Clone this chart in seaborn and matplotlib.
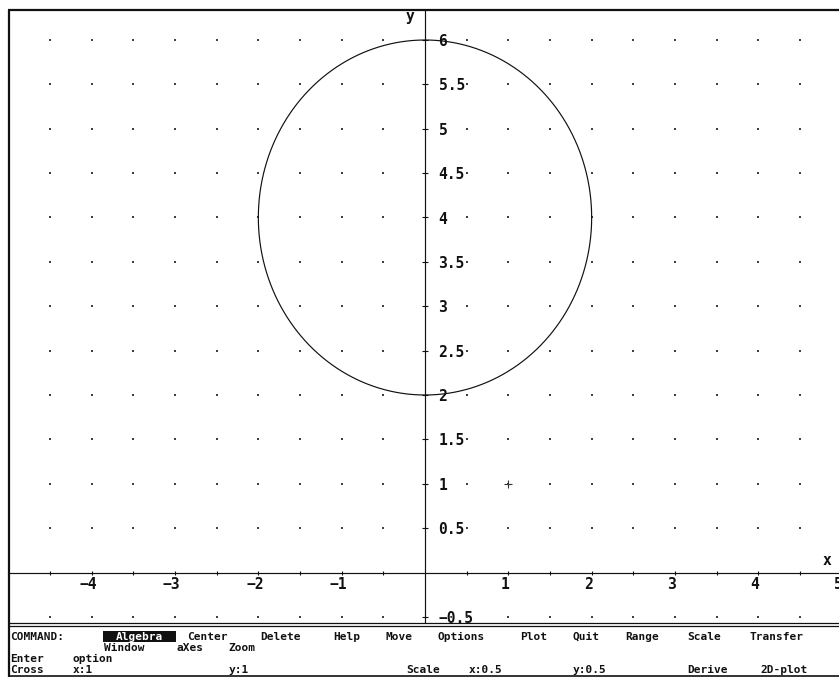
import re
import numpy as np
import pandas as pd
import matplotlib
matplotlib.use("Agg")
import matplotlib.pyplot as plt
from matplotlib.lines import Line2D
from matplotlib.patches import Rectangle
from matplotlib.transforms import Affine2D, ScaledTranslation
from matplotlib.ticker import FixedLocator, FixedFormatter
import seaborn as sns

# ---- plotted curve: x^2 + (y-4)^2 = 4 ------------------------------------
CENTER_X = 0.0
CENTER_Y = 4.0
RADIUS = 2.0

# cross-hair cursor position
CROSS_X = [1.0]
CROSS_Y = [1.0]

# axis ticks (scale 0.5 on both axes) and their labels
X_TICKS = [-4.5, -4, -3.5, -3, -2.5, -2, -1.5, -1, -0.5,
           0.5, 1, 1.5, 2, 2.5, 3, 3.5, 4, 4.5, 5]
X_TICK_LABELS = ["", "\u22124", "", "\u22123", "", "\u22122", "", "\u22121", "",
                 "", "1", "", "2", "", "3", "", "4", "", "5"]
Y_TICKS = [-0.5, 0.5, 1, 1.5, 2, 2.5, 3, 3.5, 4, 4.5, 5, 5.5, 6]
Y_TICK_LABELS = ["\u22120.5", "0.5", "1", "1.5", "2", "2.5", "3", "3.5",
                 "4", "4.5", "5", "5.5", "6"]

# status / menu lines under the plot window
MENU_LINES = [
    "COMMAND: Algebra Center Delete Help Move Options Plot Quit Range Scale Transfer",
    "         Window aXes Zoom",
    "Enter option",
    "Cross x:1            y:1              Scale x:0.5     y:0.5      Derive 2D-plot",
]
HIGHLIGHT_WORD = "Algebra"

# ---- layout ----------------------------------------------------------------
W, H = 839, 677
X_ORIGIN_PX, X_UNIT_PX = 425.0, 83.33
Y_ORIGIN_PX, Y_UNIT_PX = 572.5, 88.75
XLIM = (-5.0, 5.3)
YLIM = (-0.558, 6.338)

sns.set_theme(style="white")
plt.rcParams["font.family"] = ["DejaVu Sans Mono", "DejaVu Sans"]
plt.rcParams["font.weight"] = "bold"

fig = plt.figure(figsize=(W / 100, H / 100), dpi=100)
fig.patch.set_facecolor("white")

left_px = X_ORIGIN_PX + X_UNIT_PX * XLIM[0]
right_px = X_ORIGIN_PX + X_UNIT_PX * XLIM[1]
top_px = Y_ORIGIN_PX - Y_UNIT_PX * YLIM[1]
bottom_px = Y_ORIGIN_PX - Y_UNIT_PX * YLIM[0]
ax = fig.add_axes([left_px / W, 1 - bottom_px / H,
                   (right_px - left_px) / W, (bottom_px - top_px) / H])
ax.set_facecolor("white")
ax.set_xlim(*XLIM)
ax.set_ylim(*YLIM)

# dotted grid at every tick intersection
gx, gy = np.meshgrid(X_TICKS, Y_TICKS)
grid = pd.DataFrame({"x": gx.ravel(), "y": gy.ravel()})
sns.scatterplot(data=grid, x="x", y="y", marker="s", s=1.8, color="#404040",
                linewidth=0, ax=ax, zorder=1)

# the circle
theta = np.linspace(0, 2 * np.pi, 721)
circle = pd.DataFrame({"x": CENTER_X + RADIUS * np.cos(theta),
                       "y": CENTER_Y + RADIUS * np.sin(theta)})
sns.lineplot(data=circle, x="x", y="y", sort=False, estimator=None,
             color="#111111", linewidth=0.85, ax=ax, zorder=3)

# cross-hair cursor
sns.scatterplot(x=CROSS_X, y=CROSS_Y, marker="+", s=40, color="#333333",
                linewidth=0.8, ax=ax, zorder=4)

# axes through the origin
for side in ("top", "right"):
    ax.spines[side].set_visible(False)
ax.spines["left"].set_position(("data", 0))
ax.spines["bottom"].set_position(("data", 0))
for side in ("left", "bottom"):
    ax.spines[side].set_color("#111111")
    ax.spines[side].set_linewidth(0.85)
    ax.spines[side].set_zorder(2)

ax.xaxis.set_major_locator(FixedLocator(X_TICKS))
ax.xaxis.set_major_formatter(FixedFormatter(X_TICK_LABELS))
ax.yaxis.set_major_locator(FixedLocator(Y_TICKS))
ax.yaxis.set_major_formatter(FixedFormatter(Y_TICK_LABELS))
ax.tick_params(axis="x", direction="inout", length=3, width=0.8, pad=1.5,
               labelsize=10.5, colors="#111111", bottom=True)
ax.tick_params(axis="y", direction="inout", length=4.3, width=0.8, pad=-11.9,
               labelsize=10.5, colors="#111111", left=True)
ax.set_xlabel("")
ax.set_ylabel("")
shift_left = ScaledTranslation(-3.5 / 100, 0, fig.dpi_scale_trans)
for lbl in ax.get_yticklabels():
    lbl.set_horizontalalignment("left")
    lbl.set_fontweight("bold")
for lbl in ax.get_xticklabels():
    lbl.set_fontweight("bold")
    lbl.set_transform(lbl.get_transform() + shift_left)

ax.text(4.82, 0.14, "x", ha="center", va="center", fontsize=10.5,
        fontweight="bold", color="#111111")
ax.text(-0.18, 6.26, "y", ha="center", va="center", fontsize=10.5,
        fontweight="bold", color="#111111")

# ---- window frame and menu area -------------------------------------------
px = Affine2D().scale(1 / W, -1 / H).translate(0, 1) + fig.transFigure


def hline(y, x0, x1, lw):
    fig.add_artist(Line2D([x0, x1], [y, y], transform=px, color="#111111",
                          linewidth=lw, solid_capstyle="butt"))


hline(10, 7.5, W, 1.6)
hline(622.8, 8, W, 0.9)
hline(625.6, 8, W, 0.9)
hline(676.2, 8, W, 1.2)
fig.add_artist(Line2D([8.5, 8.5], [9.5, H], transform=px, color="#111111",
                      linewidth=1.6, solid_capstyle="butt"))

COL0, COL_W = 10.0, 10.42
ROW_BASELINES = [639.6, 650.8, 662.0, 673.3]

for row, line in enumerate(MENU_LINES):
    for m in re.finditer(r"\S+", line):
        word, col = m.group(), m.start()
        x0 = COL0 + col * COL_W
        if word == HIGHLIGHT_WORD:
            fig.add_artist(Rectangle((x0 - 1, 631), len(word) * COL_W, 10.5,
                                     transform=px, facecolor="#111111",
                                     edgecolor="none"))
            fig.text((x0 - 1 + len(word) * COL_W / 2) / W,
                     1 - ROW_BASELINES[row] / H, word, ha="center",
                     va="baseline", fontsize=8, fontweight="bold",
                     color="white")
        else:
            fig.text(x0 / W, 1 - ROW_BASELINES[row] / H, word, ha="left",
                     va="baseline", fontsize=8, fontweight="bold",
                     color="#111111")

fig.savefig("out.png", dpi=100, facecolor="white")
